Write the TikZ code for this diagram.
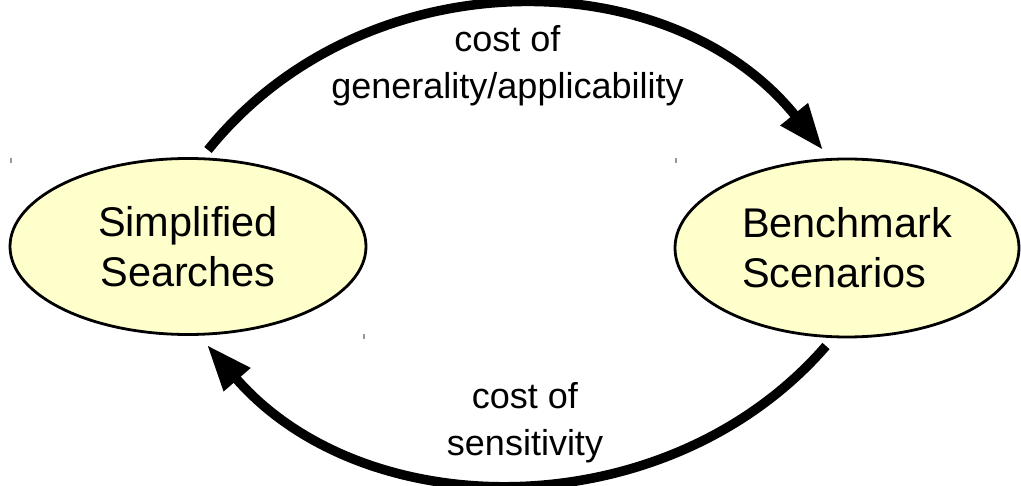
\documentclass[tikz,border=0pt]{standalone}
\usepackage{fontspec}
\setmainfont{Liberation Sans}
\usetikzlibrary{shapes.geometric,arrows.meta}
\definecolor{nodefill}{RGB}{255,255,204}
\tikzset{
  oval/.style={ellipse, draw=black, line width=2.8pt, fill=nodefill, inner sep=0pt,
    font=\fontsize{41.5}{50}\selectfont},
  lbl/.style={align=center, inner sep=0pt, font=\fontsize{36}{47}\selectfont},
  bigarrow/.style={line width=9.5pt, -{Triangle[length=46pt,width=33pt]}},
  speck/.style={draw=gray!80, line width=1.3pt}
}
\begin{document}
\begin{tikzpicture}[x=1pt,y=-1pt]
\useasboundingbox (0,0) rectangle (1021,486);
\node[oval, minimum width=356pt, minimum height=176pt, align=center] (L) at (188,246.5) {Simplified\\Searches};
\node[oval, minimum width=344pt, minimum height=178pt, align=left] (R) at (847,248) {Benchmark\\Scenarios};
\node[lbl] (top) at (507.5,66) {cost of\\generality/applicability};
\node[lbl] (bot) at (525,423) {cost of\\sensitivity};
\coordinate (a1) at (208,150);
\coordinate (a2) at (823,150);
\coordinate (b1) at (826,346);
\coordinate (b2) at (207,345);
\draw[bigarrow] (a1) .. controls (362,-42) and (668,-42) .. (a2);
\draw[bigarrow] (b1) .. controls (668,528) and (366,528) .. (b2);
\coordinate (s1) at (11,158);
\coordinate (s2) at (676,158);
\coordinate (s3) at (364,334);
\draw[speck] (s1) -- ++(0,5);
\draw[speck] (s2) -- ++(0,5);
\draw[speck] (s3) -- ++(0,5);
\end{tikzpicture}
\end{document}
